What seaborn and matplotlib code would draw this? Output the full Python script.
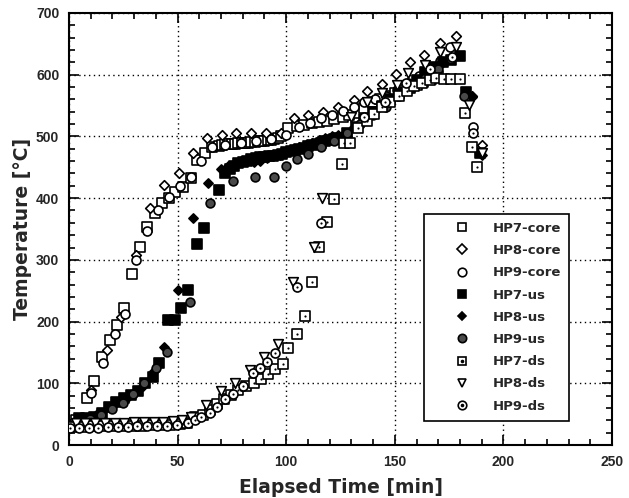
import matplotlib
matplotlib.use("Agg")
import matplotlib.pyplot as plt
from matplotlib.lines import Line2D
from matplotlib.ticker import MultipleLocator
import pandas as pd
import seaborn as sns

# elapsed time [min] and temperature [C]
hp7_core_t = [3, 8.3, 11.6, 15.2, 18.9, 22, 25.4, 28.9, 32.7, 35.8, 39.5, 42.7, 46, 49, 52.4, 56, 59, 62.5, 65.7, 69,
              70.5, 72, 73.5, 75, 76.5, 78, 79.5, 81, 82.5, 84, 85.5, 87, 88.5, 90, 91.5, 93, 94.5, 96, 97.5,
              101, 105, 108, 112, 115, 119, 122, 126, 129, 133, 136, 140, 143, 147, 150, 154, 157, 160, 163, 166.5, 170]
hp7_core_T = [40, 76, 104, 143, 170, 195, 222, 277, 321, 353, 376, 392, 400, 410, 418, 432, 462, 473, 483, 485,
              486, 487, 487, 488, 488, 489, 489, 490, 490, 491, 491, 492, 492, 493, 494, 495, 496, 497, 500,
              514, 517, 519, 521, 523, 525, 528, 531, 535, 538, 546, 556, 560, 566, 570, 576, 579, 584, 588, 593, 598]

hp8_core_t = [3, 10, 17.5, 24, 30.8, 37.4, 43.8, 50.7, 57.3, 63.7, 70.6, 77, 84, 90.5, 97.4, 103.5, 110, 117, 124,
              131, 137, 144, 150.7, 157, 163.6, 171, 178, 185.5, 190]
hp8_core_T = [34, 89, 154, 208, 308, 384, 421, 440, 473, 497, 502, 505, 505, 505, 505, 530, 535, 540, 548,
              559, 574, 585, 601, 621, 632, 652, 663, 565, 486]

hp9_core_t = [3, 10, 15.5, 21, 26, 30.8, 35.8, 41, 46, 51, 56, 61, 65.7, 72, 79, 86, 93, 100, 106, 111,
              116, 121, 126, 131, 136, 141, 146, 151, 156, 161, 166, 171, 175.5, 186]
hp9_core_T = [32, 85, 133, 180, 213, 300, 346, 380, 402, 420, 435, 460, 483, 486, 489, 492, 496, 502, 515, 522,
              530, 535, 541, 548, 556, 560, 566, 575, 586, 598, 609, 622, 645, 515]

hp7_us_t = [4.6, 8, 11.6, 15, 18.5, 21.6, 25.5, 28.5, 31.6, 35, 38.5, 41.5, 45.4, 49, 51.5, 54.6, 59, 62, 69,
            72, 74, 76, 78, 80, 82, 84, 86, 88, 90, 92, 94, 96, 98, 100, 102, 104, 106, 108, 110, 112, 114, 116,
            118, 120, 122, 124, 128, 132, 136, 140, 144, 148, 152, 156, 160, 164, 168, 172, 176, 180, 182.6, 189]
hp7_us_T = [44, 44, 46, 52, 62, 70, 76, 81, 88, 100, 110, 133, 203, 203, 222, 251, 325, 351, 413,
            440, 448, 452, 457, 459, 461, 463, 465, 466, 467, 468, 469, 470, 472, 474, 476, 478, 480, 482, 484, 486,
            488, 490, 492, 494, 496, 498, 505, 515, 528, 540, 550, 560, 570, 580, 592, 604, 612, 620, 624, 630,
            572, 473]

hp8_us_t = [6, 13, 20, 27, 34, 39, 43.7, 50, 57, 64, 70, 73, 76, 79, 82, 85, 88, 91, 94, 97, 100, 103, 106,
            109, 112, 115, 118, 121, 124, 127, 131, 136, 141, 146, 151, 156, 161, 166, 171, 176, 185.7, 190]
hp8_us_T = [42, 50, 62, 78, 95, 120, 159, 251, 368, 425, 448, 452, 456, 460, 462, 458, 461, 465, 468, 470, 474,
            480, 483, 486, 490, 494, 497, 500, 502, 505, 515, 530, 542, 552, 565, 578, 590, 605, 615, 628, 564, 470]

hp9_us_t = [4, 9.5, 14.7, 20, 24.8, 29.5, 34.5, 40, 45, 55.6, 65, 75.4, 85.5, 94.6, 100, 105, 110, 116, 122,
            128, 134, 140, 146, 152, 158, 164, 170, 176, 182]
hp9_us_T = [38, 42, 49, 58, 68, 82, 100, 125, 151, 232, 392, 428, 434, 434, 452, 463, 472, 483, 492,
            505, 520, 535, 548, 565, 580, 595, 610, 625, 565]

hp7_ds_t = [1.5, 6, 10.5, 15, 19.5, 24, 28.5, 33, 37.5, 42, 46.5, 51, 54.5, 57.9, 61.6, 65, 68, 71.2, 74.5, 78,
            81.3, 85, 88.2, 91.5, 95, 98.3, 101, 104.8, 108.5, 112, 115, 119, 122, 125.5, 126.5, 129.5,
            133, 137, 140.5, 144, 148, 152, 155.5, 159, 162.5, 166, 169, 172.5, 176, 180, 182.5, 185.7, 188]
hp7_ds_T = [29, 29, 30, 30, 30, 31, 31, 31, 32, 32, 33, 34, 36, 45, 49, 57, 66, 74, 81, 89,
            96, 101, 107, 115, 123, 131, 157, 180, 209, 264, 321, 361, 398, 455, 489, 490,
            513, 525, 537, 547, 556, 565, 574, 581, 587, 591, 594, 593, 593, 593, 538, 483, 450]

hp8_ds_t = [3, 7.5, 12, 16.5, 21, 25.5, 30, 34.5, 39, 43.5, 48, 52, 56, 63, 70, 76.3, 83.2, 89.7, 96, 103,
            112.6, 116.7, 130, 137, 144, 151, 156, 164, 171, 178, 184, 190]
hp8_ds_T = [35, 35, 35, 36, 36, 36, 37, 37, 37, 38, 39, 40, 45, 65, 88, 100, 122, 142, 163, 264,
            321, 400, 532, 556, 570, 584, 603, 616, 637, 645, 551, 473]

hp9_ds_t = [0.5, 4.5, 9, 13.5, 18, 22.5, 27, 31.5, 36, 40.5, 45, 49.5, 54.6, 58, 61, 65, 68, 71.7, 75.4, 80,
            84.6, 88, 91, 94.7, 105, 116, 135.6, 145.7, 155, 166, 176.5, 186]
hp9_ds_T = [27, 28, 28, 28, 29, 29, 29, 30, 30, 30, 31, 32, 36, 40, 45, 52, 62, 74, 82, 95,
            116, 125, 135, 149, 256, 360, 532, 556, 586, 609, 629, 505]

# name, t, T, marker, face, size (pt^2), centre dot
series = [
    ("HP7-core", hp7_core_t, hp7_core_T, "s", "white", 58, False),
    ("HP8-core", hp8_core_t, hp8_core_T, "D", "white", 24, False),
    ("HP9-core", hp9_core_t, hp9_core_T, "o", "white", 42, False),
    ("HP7-us", hp7_us_t, hp7_us_T, "s", "black", 46, False),
    ("HP8-us", hp8_us_t, hp8_us_T, "D", "black", 22, False),
    ("HP9-us", hp9_us_t, hp9_us_T, "o", "#4a4a4a", 40, False),
    ("HP7-ds", hp7_ds_t, hp7_ds_T, "s", "white", 46, True),
    ("HP8-ds", hp8_ds_t, hp8_ds_T, "v", "white", 48, False),
    ("HP9-ds", hp9_ds_t, hp9_ds_T, "o", "white", 42, True),
]

sns.set_style("ticks")
plt.rcParams['font.family'] = ['Liberation Sans', 'DejaVu Sans']

fig = plt.figure(figsize=(6.29, 4.98), dpi=100)
ax = fig.add_axes([0.1097, 0.1064, 0.8633, 0.8675])

handles = []
for name, t, T, mk, face, sz, dot in series:
    df = pd.DataFrame({"t": t, "T": T})
    sns.scatterplot(data=df, x="t", y="T", marker=mk, s=sz, facecolor=face,
                    edgecolor="black", linewidth=1.2, ax=ax, zorder=3)
    h = Line2D([], [], marker=mk, linestyle="", markersize=min(sz, 46) ** 0.5 * 0.95,
               markerfacecolor=face, markeredgecolor="black", markeredgewidth=1.2)
    if dot:
        sns.scatterplot(data=df, x="t", y="T", marker="o", s=2.5, color="black",
                        linewidth=0, ax=ax, zorder=3)
        h = (h, Line2D([], [], marker="o", linestyle="", markersize=1.6,
                       markerfacecolor="black", markeredgecolor="black"))
    handles.append(h)

ax.set_xlim(0, 250)
ax.set_ylim(0, 700)
ax.xaxis.set_major_locator(MultipleLocator(50))
ax.xaxis.set_minor_locator(MultipleLocator(10))
ax.yaxis.set_major_locator(MultipleLocator(100))
ax.yaxis.set_minor_locator(MultipleLocator(20))
ax.tick_params(which="both", direction="in", top=True, right=True, width=1.2, color="black")
ax.tick_params(which="major", length=7, pad=7, labelsize=10)
ax.tick_params(which="minor", length=4)
for lab in ax.get_xticklabels() + ax.get_yticklabels():
    lab.set_fontweight("bold")
for sp in ax.spines.values():
    sp.set_linewidth(1.5)
    sp.set_color("black")

ax.set_axisbelow(True)
ax.grid(True, which="major", color="black", linestyle=(0, (1, 2.5)), linewidth=1.0)

ax.set_xlabel("Elapsed Time [min]", fontsize=13.5, fontweight="bold", family="DejaVu Sans", labelpad=7)
ax.set_ylabel("Temperature [°C]", fontsize=13.5, fontweight="bold", family="DejaVu Sans", labelpad=3)

leg = ax.legend(handles, [s[0] for s in series], loc="upper left", bbox_to_anchor=(0.654, 0.535),
                frameon=True, fancybox=False, framealpha=1, edgecolor="black",
                prop={"family": "DejaVu Sans", "weight": "bold", "size": 9.5},
                borderpad=0.6, handlelength=4.6, handletextpad=0.0, labelspacing=0.7,
                borderaxespad=0)
leg.get_frame().set_linewidth(1.2)

fig.savefig("out.png", dpi=100)
